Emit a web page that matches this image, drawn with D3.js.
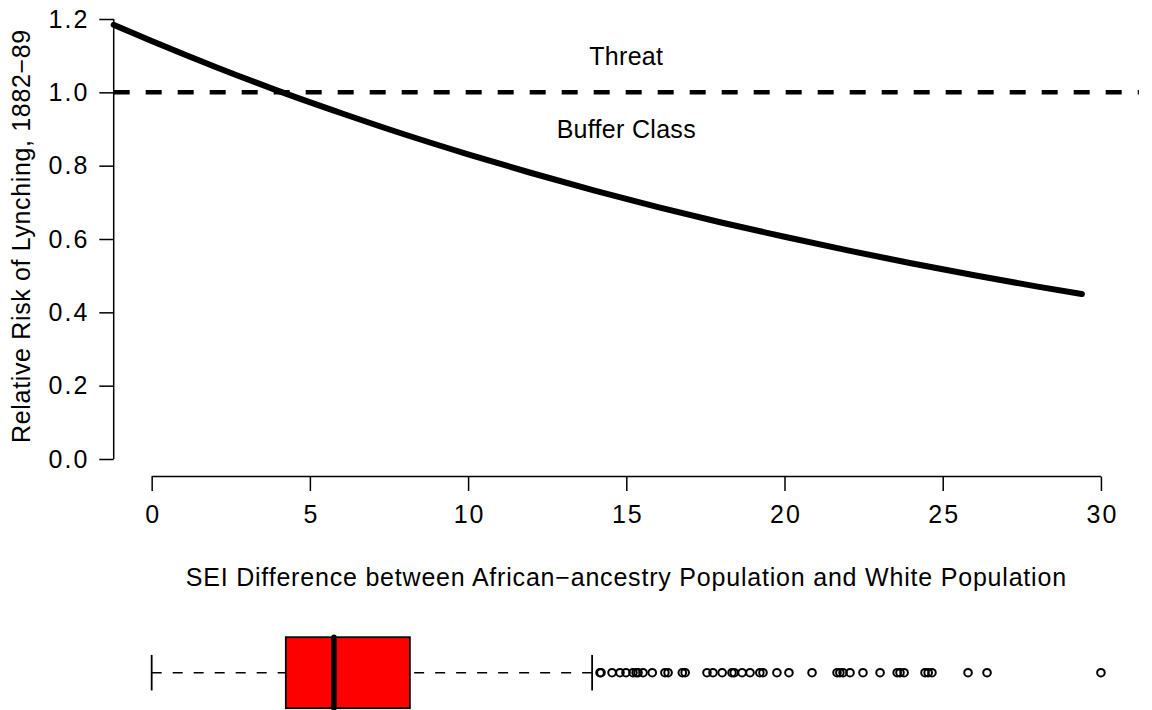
<html>
<head>
<script src="https://d3js.org/d3.v7.min.js"></script>
<style>
  body { margin: 0; background: #fff; }
  text { font-family: "Liberation Sans", Arial, sans-serif; }
</style>
</head>
<body>
<svg id="chart" width="1152" height="710"></svg>
<script>
// curve
const curveX = [-1.2, 0, 2, 4, 6, 8, 10, 12, 14, 16, 18, 20, 22, 24, 26, 28, 29.4];
const curveY = [1.184, 1.14, 1.07, 1.004, 0.943, 0.885, 0.831, 0.78, 0.732, 0.687, 0.645, 0.606, 0.569, 0.534, 0.501, 0.47, 0.45];
const xTicks = [0, 5, 10, 15, 20, 25, 30];
const yTicks = [0.0, 0.2, 0.4, 0.6, 0.8, 1.0, 1.2];
const threshold = 1.0;
const labels = [{ text: "Threat", x: 15, y: 1.1 }, { text: "Buffer Class", x: 15, y: 0.9 }];

// boxplot of SEI difference
const boxStats = [0, 4.24, 5.76, 8.16, 13.92]; // low whisker, q1, median, q3, high whisker
const outliers = [14.17, 14.2, 14.55, 14.8, 14.99, 15.21, 15.31, 15.37, 15.53, 15.82, 16.22, 16.32,
  16.77, 16.86, 17.55, 17.74, 18.03, 18.34, 18.41, 18.66, 18.91, 19.22, 19.32, 19.76, 20.14,
  20.87, 21.66, 21.75, 21.85, 22.07, 22.48, 23.02, 23.56, 23.65, 23.78, 24.44, 24.54, 24.66,
  25.8, 26.4, 30.0];

const svg = d3.select("#chart");
const pLeft = 113.7, pRight = 1138.9, pTop = 1.4, pBottom = 476.6;
const fs = 25;

const x = d3.scaleLinear().domain([-1.2, 31.2]).range([pLeft, pRight]);
const y = d3.scaleLinear().domain([-0.048, 1.248]).range([pBottom, pTop]);

// y axis
const yAxis = svg.append("g")
    .attr("transform", "translate(" + pLeft + ",0)")
    .call(d3.axisLeft(y).tickValues(yTicks).tickFormat(d3.format(".1f")).tickSize(14.4).tickPadding(10));
yAxis.select(".domain").attr("d", "M0," + y(0) + "V" + y(1.2));

// x axis
const xAxis = svg.append("g")
    .attr("transform", "translate(0," + pBottom + ")")
    .call(d3.axisBottom(x).tickValues(xTicks).tickSize(14.4).tickPadding(14));
xAxis.select(".domain").attr("d", "M" + x(0) + ",0H" + x(30));
xAxis.selectAll(".tick text").attr("dx", 1);

svg.selectAll(".tick line, .domain").attr("stroke", "#000").attr("stroke-width", 1.5);
svg.selectAll(".tick text").attr("font-size", fs).attr("fill", "#000")
    .attr("letter-spacing", 2)
    .attr("font-family", "Liberation Sans, Arial, sans-serif");

// axis titles
svg.append("text")
    .attr("transform", "translate(30," + ((pTop + pBottom) / 2 - 3) + ") rotate(-90)")
    .attr("text-anchor", "middle")
    .attr("font-size", fs)
    .attr("letter-spacing", 0.65)
    .text("Relative Risk of Lynching, 1882\u221289");

svg.append("text")
    .attr("x", (pLeft + pRight) / 2)
    .attr("y", 586)
    .attr("text-anchor", "middle")
    .attr("font-size", fs)
    .attr("letter-spacing", 0.8)
    .text("SEI Difference between African\u2212ancestry Population and White Population");

// threshold line
svg.append("line")
    .attr("x1", pLeft).attr("x2", pRight)
    .attr("y1", y(threshold)).attr("y2", y(threshold))
    .attr("stroke", "#000").attr("stroke-width", 4.5)
    .attr("stroke-dasharray", "16,16");

svg.selectAll("text.note").data(labels)
  .join("text")
    .attr("class", "note")
    .attr("x", d => x(d.x))
    .attr("y", d => y(d.y))
    .attr("dy", "0.36em")
    .attr("text-anchor", "middle")
    .attr("font-size", fs)
    .attr("letter-spacing", 0.3)
    .text(d => d.text);

// fitted curve
const line = d3.line().x(d => x(d[0])).y(d => y(d[1])).curve(d3.curveMonotoneX);
svg.append("path")
    .datum(d3.zip(curveX, curveY))
    .attr("d", line)
    .attr("fill", "none")
    .attr("stroke", "#000")
    .attr("stroke-width", 6)
    .attr("stroke-linecap", "round");

// boxplot
const by = 672.7, bh = 71;
const box = svg.append("g");
box.append("line")
    .attr("x1", x(boxStats[0])).attr("x2", x(boxStats[1]))
    .attr("y1", by).attr("y2", by)
    .attr("stroke", "#000").attr("stroke-width", 1.5).attr("stroke-dasharray", "10,11");
box.append("line")
    .attr("x1", x(boxStats[4])).attr("x2", x(boxStats[3]))
    .attr("y1", by).attr("y2", by)
    .attr("stroke", "#000").attr("stroke-width", 1.5).attr("stroke-dasharray", "10,11");
box.selectAll("line.cap").data([boxStats[0], boxStats[4]])
  .join("line")
    .attr("class", "cap")
    .attr("x1", d => x(d)).attr("x2", d => x(d))
    .attr("y1", by - bh / 4).attr("y2", by + bh / 4)
    .attr("stroke", "#000").attr("stroke-width", 1.8);
box.append("rect")
    .attr("x", x(boxStats[1]))
    .attr("width", x(boxStats[3]) - x(boxStats[1]))
    .attr("y", by - bh / 2).attr("height", bh)
    .attr("fill", "#ff0000").attr("stroke", "#000").attr("stroke-width", 1.8);
box.append("line")
    .attr("x1", x(boxStats[2])).attr("x2", x(boxStats[2]))
    .attr("y1", by - bh / 2).attr("y2", by + bh / 2)
    .attr("stroke", "#000").attr("stroke-width", 5.5).attr("stroke-linecap", "round");
box.selectAll("circle").data(outliers)
  .join("circle")
    .attr("cx", d => x(d))
    .attr("cy", by)
    .attr("r", 3.8)
    .attr("fill", "none")
    .attr("stroke", "#000")
    .attr("stroke-width", 2);
</script>
</body>
</html>
